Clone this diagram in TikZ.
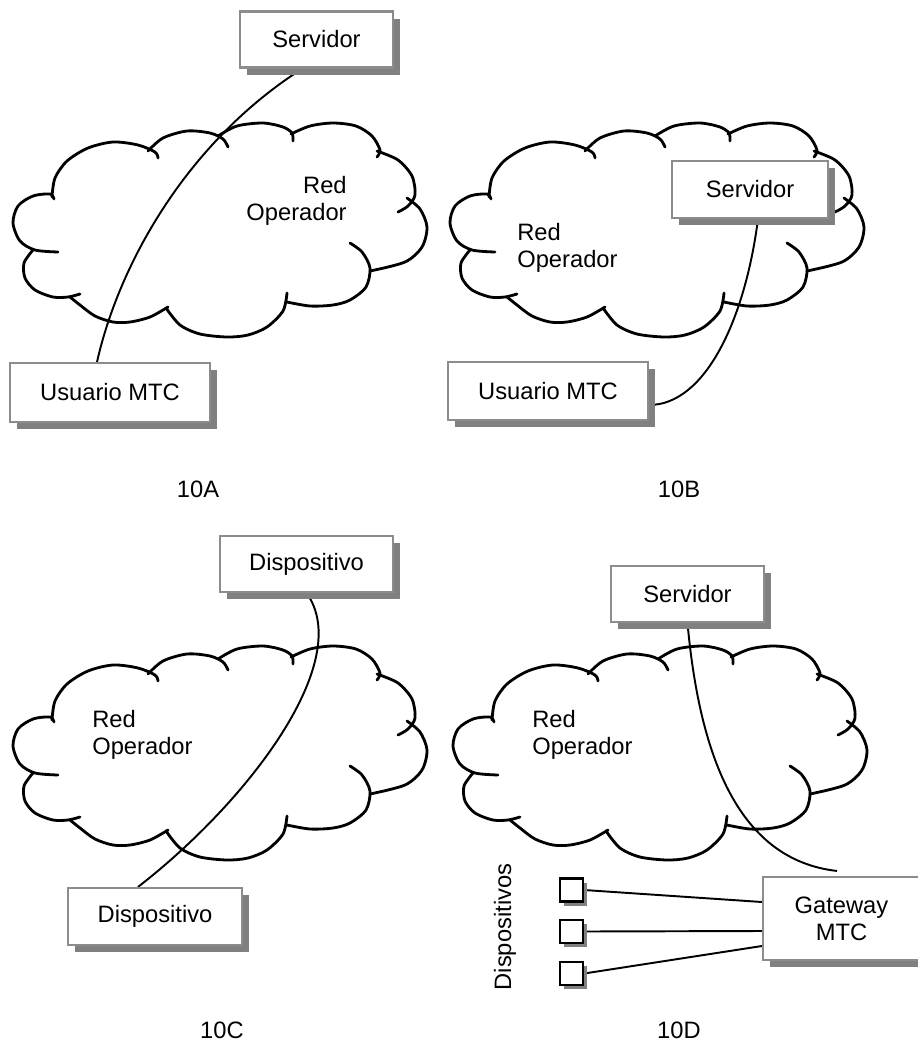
\documentclass[tikz,border=0pt]{standalone}
\usepackage{fontspec}
\setmainfont{Liberation Sans}
\usetikzlibrary{shadows,backgrounds}

\begin{document}
\begin{tikzpicture}[
    x=0.02cm, y=0.02cm,
    every node/.style={font=\fontsize{13.5}{15.5}\selectfont},
    box/.style={draw=black!45, line width=1.2pt, fill=white, minimum width=3.06cm, minimum height=1.12cm,
        drop shadow={shadow xshift=0.14cm, shadow yshift=-0.14cm, fill=black!50, opacity=1}},
    devbox/.style={draw, line width=1.3pt, fill=white, minimum size=0.46cm, inner sep=0pt,
        drop shadow={shadow xshift=0.08cm, shadow yshift=-0.08cm, fill=black!50, opacity=1}},
    netlabel/.style={inner sep=0pt},
    link/.style={line width=1.1pt},
    cloudline/.style={line width=1.6pt, line cap=round, line join=round},
    redcloud/.pic={
        \draw[cloudline] plot[smooth] coordinates {(52,-197) (55,-178) (67,-161) (88,-148) (113,-142) (138,-145) (155,-152) (158,-158)};
        \draw[cloudline] plot[smooth] coordinates {(148,-151) (163,-138) (187,-131) (210,-133) (223,-139) (228,-147)};
        \draw[cloudline] plot[smooth] coordinates {(218,-136) (237,-126) (263,-123) (283,-127) (292,-133) (293,-141)};
        \draw[cloudline] plot[smooth] coordinates {(291,-134) (310,-126) (333,-123) (356,-126) (372,-136) (380,-150) (377,-157)};
        \draw[cloudline] plot[smooth] coordinates {(377,-151) (398,-160) (412,-176) (415,-195) (408,-206) (398,-212)};
        \draw[cloudline] plot[smooth] coordinates {(407,-198) (420,-209) (427,-227) (422,-247) (405,-262) (370,-271)};
        \draw[cloudline] plot[smooth] coordinates {(350,-243) (362,-252) (370,-268) (366,-287) (350,-300) (333,-305) (310,-306) (287,-302)};
        \draw[cloudline] plot[smooth] coordinates {(287,-293) (283,-311) (267,-327) (248,-335) (227,-337) (200,-334) (180,-325) (166,-308)};
        \draw[cloudline] plot[smooth] coordinates {(168,-307) (150,-317) (130,-322) (113,-322) (95,-316) (80,-305) (70,-297)};
        \draw[cloudline] plot[smooth] coordinates {(80,-294) (68,-297) (53,-297) (35,-290) (25,-278) (24,-263) (33,-250)};
        \draw[cloudline] plot[smooth] coordinates {(58,-252) (35,-250) (20,-241) (13,-223) (18,-206) (33,-196) (50,-194) (54,-199)};
    }
]
\useasboundingbox (0,0) rectangle (918,-1046);

\pic at (0,0) {redcloud};
\pic at (437,0) {redcloud};
\pic at (0,-523) {redcloud};
\pic at (440,-523) {redcloud};

\node[box] (srvA) at (316.5,-39.5) {Servidor};
\node[box, minimum width=4cm, minimum height=1.18cm] (usrA) at (110,-392.5) {Usuario MTC};
\node[netlabel, align=right, anchor=east] (redA) at (347,-201) {Red\\Operador};
\node (capA) at (198,-489) {10A};

\node[box, minimum width=3.12cm, minimum height=1.14cm] (srvB) at (750,-189.5) {Servidor};
\node[box, minimum width=4cm, minimum height=1.16cm] (usrB) at (548,-391) {Usuario MTC};
\node[netlabel, align=left, anchor=west] (redB) at (517,-248) {Red\\Operador};
\node (capB) at (679,-489) {10B};

\node[box, minimum width=3.46cm] (dispC1) at (306.5,-564) {Dispositivo};
\node[box, minimum width=3.48cm, minimum height=1.14cm] (dispC2) at (155,-916.5) {Dispositivo};
\node[netlabel, align=left, anchor=west] (redC) at (92,-735) {Red\\Operador};
\node (capC) at (222,-1030) {10C};

\node[box] (srvD) at (687.5,-594) {Servidor};
\node[box, minimum width=3.14cm, minimum height=1.66cm, align=center] (gwD) at (841.5,-918.5) {Gateway\\MTC};
\node[netlabel, align=left, anchor=west] (redD) at (532,-735) {Red\\Operador};
\node[devbox] (dev1) at (571.5,-890) {};
\node[devbox] (dev2) at (571.5,-931.5) {};
\node[devbox] (dev3) at (571.5,-973.5) {};
\node[rotate=90] (devlbl) at (505,-927) {Dispositivos};
\node (capD) at (679,-1030) {10D};

\begin{scope}[on background layer]
\draw[link] ([xshift=-0.28cm]srvA.south) .. controls (190,-140) and (120,-260) .. ([xshift=-0.26cm]usrA.north);
\draw[link] ([xshift=0.16cm]srvB.south) .. controls (745,-320) and (705,-405) .. ([yshift=-0.28cm]usrB.east);
\draw[link] (dispC1.south) .. controls (355,-660) and (250,-800) .. ([xshift=-0.34cm]dispC2.north);
\draw[link] (srvD.south) .. controls (700,-760) and (740,-860) .. ([xshift=-0.09cm,yshift=0.1cm]gwD.north);
\draw[link] (dev1.east) -- ([yshift=0.33cm]gwD.west);
\draw[link] (dev2.east) -- ([yshift=-0.25cm]gwD.west);
\draw[link] (dev3.east) -- ([yshift=-0.55cm]gwD.west);
\end{scope}
\end{tikzpicture}
\end{document}
